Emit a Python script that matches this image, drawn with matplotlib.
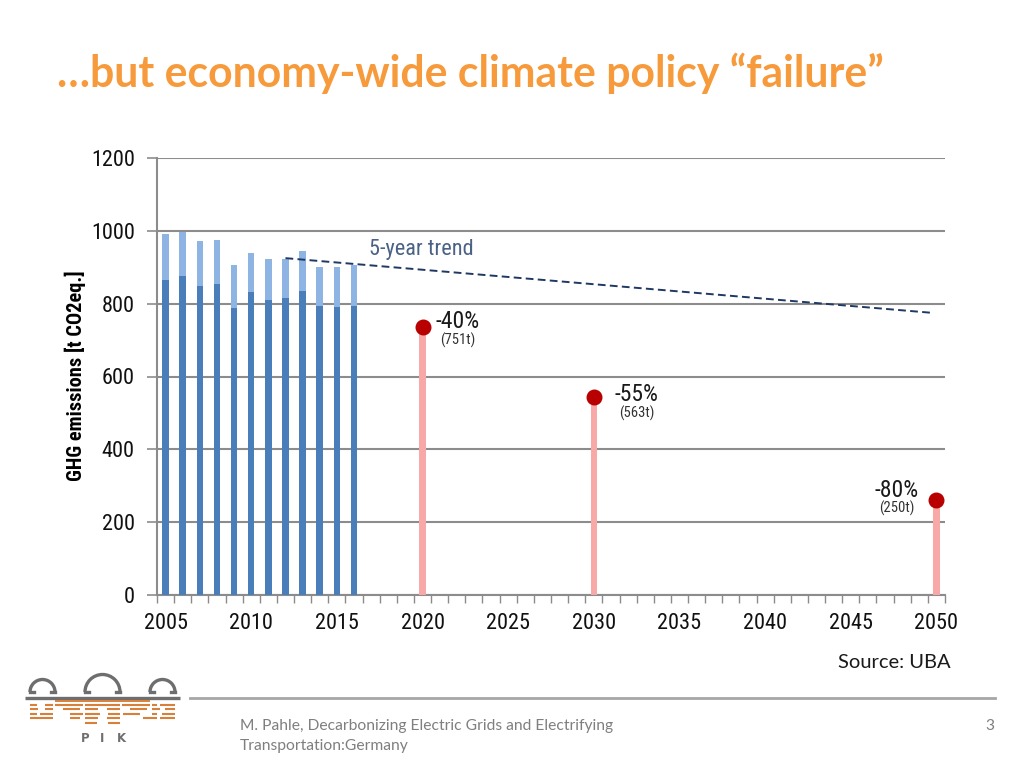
import numpy as np
import matplotlib.pyplot as plt
from matplotlib.patches import Arc

# Emissions 2005-2016 (dark = lower part, light = upper part)
years = [2005, 2006, 2007, 2008, 2009, 2010, 2011, 2012, 2013, 2014, 2015, 2016]
dark_part = [865, 876, 849, 853, 789, 831, 811, 815, 834, 794, 792, 794]
light_part = [126, 122, 123, 121, 117, 109, 111, 108, 110, 108, 108, 113]

# Targets
target_years = [2020, 2030, 2050]
target_values = [735, 545, 260]
target_pct = ['-40%', '-55%', '-80%']
target_abs = ['(751t)', '(563t)', '(250t)']

# 5-year trend
trend_years = [2012, 2049.7]
trend_values = [925, 775]

x_labels = [str(y) for y in range(2005, 2051, 5)]
y_ticks = [0, 200, 400, 600, 800, 1000, 1200]

NARROW = ['Roboto Condensed', 'Barlow Semi Condensed', 'DejaVu Sans']
GRID = '#8C8C8C'


def pos(year):
    # Kategorie-Index auf der x-Achse
    return np.asarray(year, dtype=float) - 2005


def draw_logo(ax):
    grey = '#6E6E6E'
    orange = '#D8803A'
    # Kuppeln
    for cx, r in [(42.5, 12.5), (102.5, 17.5), (162.5, 12.5)]:
        ax.add_patch(Arc((cx, 692), 2 * r, 2 * r, theta1=180, theta2=360,
                         color=grey, lw=2.4))
        ax.plot([cx - r, cx - r + 4], [692, 692], color=grey, lw=2.4)
        ax.plot([cx + r - 4, cx + r], [692, 692], color=grey, lw=2.4)
    ax.plot([25, 180], [697.5, 697.5], color=grey, lw=2.4, solid_capstyle='butt')
    ax.plot([55, 150], [700.5, 700.5], color=orange, lw=1.4, solid_capstyle='butt')
    rows = {
        704.5: [(30, 50), (75, 100), (105, 190), (195, 300), (305, 390), (395, 410), (420, 465)],
        709: [(30, 55), (75, 100), (130, 180), (195, 235), (260, 300), (330, 380), (395, 420), (435, 465)],
        713.5: [(30, 50), (60, 100), (150, 190), (195, 240), (265, 300), (310, 360), (395, 410), (425, 465)],
        718: [(30, 100), (150, 180), (195, 235), (260, 300), (370, 410), (420, 465)],
        723: [(195, 230), (265, 300)],
    }
    for yy, segs in rows.items():
        for a, b in segs:
            ax.plot([a / 3 + 20, b / 3 + 20], [yy, yy], color=orange, lw=1.5,
                    solid_capstyle='butt')
    for xx, ch in [(85, 'P'), (102, 'I'), (121, 'K')]:
        ax.text(xx, 739, ch, ha='center', va='center', fontsize=8.5,
                fontweight='bold', color=grey, family='DejaVu Sans')


def main():
    fig = plt.figure(figsize=(10.24, 7.68), dpi=100)

    # Hintergrund-Achse in Pixelkoordinaten
    bg = fig.add_axes([0, 0, 1, 1])
    bg.set_xlim(0, 1024)
    bg.set_ylim(768, 0)
    bg.axis('off')

    bg.text(57, 73, '\u2026but economy-wide climate policy \u201cfailure\u201d',
            fontsize=30.8, fontweight='bold', color='#F79A3B', family='Lato',
            va='center', ha='left')
    bg.text(838, 663, 'Source: UBA', fontsize=14.5, color='#1A1A1A',
            family='Lato', va='center', ha='left')
    bg.plot([190, 995], [698, 698], color='#A6A6A6', lw=2)
    bg.text(240, 726, 'M. Pahle, Decarbonizing Electric Grids and Electrifying',
            fontsize=11.25, color='#7F7F7F', family='Lato', va='center')
    bg.text(240, 746, 'Transportation:Germany',
            fontsize=11.25, color='#7F7F7F', family='Lato', va='center')
    bg.text(985, 726, '3', fontsize=11.25, color='#7F7F7F', family='Lato', va='center')
    draw_logo(bg)

    ax = fig.add_axes([157 / 1024, 1 - 595 / 768, 788 / 1024, 437 / 768])
    ax.patch.set_alpha(0)

    x = pos(years)
    ax.bar(x, dark_part, width=0.38, color='#4A7EBB', zorder=3)
    ax.bar(x, light_part, width=0.38, bottom=dark_part, color='#8EB4E3', zorder=3)

    tx = pos(target_years)
    ax.bar(tx, target_values, width=0.36, color='#F9A8A8', zorder=3)
    ax.scatter(tx, target_values, s=110, color='#B80000', zorder=4)

    ax.plot(pos(trend_years), trend_values, color='#1F3864', lw=1.4,
            dashes=(4, 2.2), zorder=5)
    ax.text(pos(2012) + 4.9, 950, '5-year trend', fontsize=16, color='#4A6286',
            ha='left', va='center', family=NARROW)

    pct_off = [(9, 4), (15, 1.5), (-13, 7)]
    abs_off = [(13, -9), (18, -12), (-16, -6)]
    for xi, v, p, a, po, ao in zip(tx, target_values, target_pct, target_abs,
                                    pct_off, abs_off):
        ha = 'left' if po[0] > 0 else 'right'
        ax.annotate(p, (xi, v), xytext=po, textcoords='offset points',
                    ha=ha, va='center', fontsize=17, color='#1A1A1A', family=NARROW)
        ax.annotate(a, (xi, v), xytext=ao, textcoords='offset points',
                    ha=ha, va='center', fontsize=10.5, color='#333333', family=NARROW)

    ax.set_xlim(-0.5, 45.5)
    ax.set_ylim(0, 1200)
    ax.set_xticks(pos([int(s) for s in x_labels]))
    ax.set_xticklabels(x_labels)
    ax.set_xticks(np.arange(-0.5, 46, 1), minor=True)
    ax.tick_params(axis='x', which='major', length=0, pad=13)
    ax.tick_params(axis='x', which='minor', length=6, width=1, color=GRID)
    ax.set_yticks(y_ticks)
    ax.tick_params(axis='y', length=7, width=1.2, color=GRID, pad=9)
    for lab in ax.get_xticklabels() + ax.get_yticklabels():
        lab.set_fontsize(16)
        lab.set_family(NARROW)
        lab.set_color('#111111')

    ax.yaxis.grid(True, color=GRID, lw=1.5, zorder=0)
    ax.set_axisbelow(True)
    for s in ['top', 'right']:
        ax.spines[s].set_visible(False)
    for s in ['left', 'bottom']:
        ax.spines[s].set_color(GRID)
        ax.spines[s].set_linewidth(1.5)

    ax.set_ylabel('GHG emissions [t CO2eq.]', fontsize=14.7, fontweight='bold',
                  family=NARROW)
    ax.yaxis.set_label_coords(-0.09, 0.503)

    fig.savefig('out.png', dpi=100)


if __name__ == '__main__':
    main()
